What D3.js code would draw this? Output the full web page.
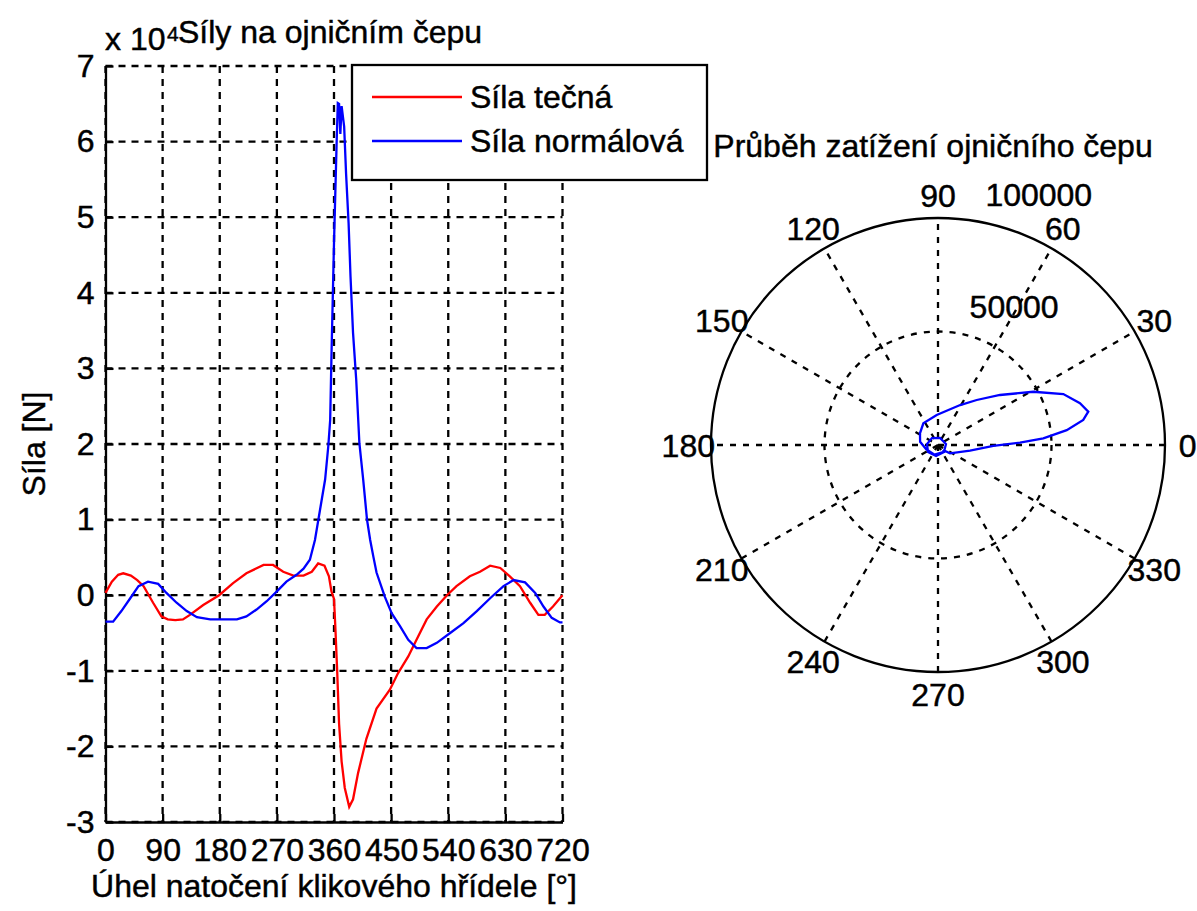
<!DOCTYPE html>
<html><head><meta charset="utf-8">
<script src="https://cdn.jsdelivr.net/npm/d3@7"></script>
<style>
body{margin:0;background:#fff}
text{font-family:"Liberation Sans",Arial,Helvetica,sans-serif;fill:#000;stroke:#000;stroke-width:0.45px}
</style>
</head><body><svg id="c" width="1197" height="911"></svg>
<script>
// ---------- data ----------
const tangAngle = [0,10,20,28,40,50,60,75,88,98,110,122,133,154,179,201,222,249,264,280,296,312,325,335,345,352,356,360,362,365,368,372,377,384,390,398,411,427,448,461,477,490,506,522,538,553,574,590,606,622,637,653,669,682,692,705,720];
const tangForce = [300,1800,2700,2900,2600,2000,1200,-1000,-2800,-3200,-3300,-3200,-2600,-1300,0,1600,2900,4000,4000,3100,2600,2600,3100,4200,3900,2500,500,-500,-4000,-10000,-17000,-22000,-25500,-28000,-27000,-23500,-19000,-15000,-12500,-10300,-8100,-5900,-3200,-1500,0,1200,2500,3100,3900,3600,2500,1200,-1000,-2600,-2600,-1500,0];
const normAngle = [0,12,25,39,52,67,83,96,112,128,144,165,207,222,238,254,270,285,301,312,322,330,338,346,351,354,356,360,364,366,368,370,372,376,379,383,386,390,395,400,406,412,417,422,427,440,451,464,477,490,506,522,543,564,585,606,627,643,661,677,690,703,716,720];
const normForce = [-3500,-3500,-2100,-400,1200,1800,1500,300,-1000,-2100,-2900,-3200,-3200,-2800,-1900,-800,500,1800,2700,3500,4700,7300,11300,15300,19700,23200,31600,46600,59400,65100,65000,61000,64700,62000,55800,49200,42200,34700,28500,20100,15300,10000,7300,5100,3000,-200,-2400,-4100,-5900,-7000,-7000,-6300,-5000,-3700,-2100,-400,1200,2000,1700,300,-1500,-3000,-3600,-3600];
const xTicks = [0,90,180,270,360,450,540,630,720];
const yTicks = [-3,-2,-1,0,1,2,3,4,5,6,7];
const legendLabels = ["Síla tečná","Síla normálová"];
const seriesColors = ["#ff0000","#0000ff"];

// polar load curve: angle [deg], magnitude [N]
const polarTheta  = [-45,311,260,215,175,131,74,7,311,250,200,170,147,124,92.5,61,49.3,38.9,29.2,22.1,16.4,12.5,9.8,6.6,3.6,1.6,-1,-10,-34.7,-45];
const polarRadius = [3120,4060,4930,5380,4860,4060,3200,3540,4000,4500,5500,8000,9470,11540,13220,20120,26150,35080,48100,59590,65190,67810,64940,57080,46480,36130,24370,14320,6430,3120];
const polarAngleLabels = [0,30,60,90,120,150,180,210,240,270,300,330];
const polarRTicks = [50000,100000];

// ---------- setup ----------
const svg = d3.select("#c");
const FS = 32;
const L = {left:105.5, right:562.5, top:66, bottom:822};
const x = d3.scaleLinear().domain([0,720]).range([L.left,L.right]);
const y = d3.scaleLinear().domain([-30000,70000]).range([L.bottom,L.top]);

const gL = svg.append("g");
// grid
const dash = "7,6";
gL.append("g").selectAll("line").data(xTicks).join("line")
  .attr("x1",d=>x(d)).attr("x2",d=>x(d)).attr("y1",L.top).attr("y2",L.bottom)
  .attr("stroke","#000").attr("stroke-width",2.3).attr("stroke-dasharray",dash);
gL.append("g").selectAll("line").data(yTicks).join("line")
  .attr("x1",L.left).attr("x2",L.right).attr("y1",d=>y(d*1e4)).attr("y2",d=>y(d*1e4))
  .attr("stroke","#000").attr("stroke-width",2.3).attr("stroke-dasharray",dash);

// axes
const ax = gL.append("g").attr("transform",`translate(0,${L.bottom})`)
  .call(d3.axisBottom(x).tickValues(xTicks).tickSizeInner(-8).tickSizeOuter(0).tickPadding(16));
const ay = gL.append("g").attr("transform",`translate(${L.left},0)`)
  .call(d3.axisLeft(y).tickValues(yTicks.map(t=>t*1e4)).tickFormat(d=>d3.format("d")(d/1e4)).tickSizeInner(-8).tickSizeOuter(0).tickPadding(11));
[ax,ay].forEach(a=>{
  a.selectAll("path.domain").attr("stroke","#000").attr("stroke-width",2.3);
  a.selectAll(".tick line").attr("stroke","#000").attr("stroke-width",2.3);
  a.selectAll("text").attr("font-size",FS).attr("font-family",'"Liberation Sans",Arial,sans-serif').attr("fill","#000");
});
ay.selectAll("text").text(d=>{const v=d/1e4; return v<0?"-"+Math.abs(v):String(v);});

// lines
const line = d3.line().x(d=>x(d[0])).y(d=>y(d[1]));
const tang = tangAngle.map((a,i)=>[a,tangForce[i]]);
const norm = normAngle.map((a,i)=>[a,normForce[i]]);
gL.append("path").datum(tang).attr("d",line).attr("fill","none").attr("stroke",seriesColors[0]).attr("stroke-width",2.3);
gL.append("path").datum(norm).attr("d",line).attr("fill","none").attr("stroke",seriesColors[1]).attr("stroke-width",2.3);

// labels
svg.append("text").attr("x",105).attr("y",50).attr("font-size",FS).text("x 10");
svg.append("text").attr("x",167).attr("y",41).attr("font-size",21).text("4");
svg.append("text").attr("x",178).attr("y",43).attr("font-size",FS).text("Síly na ojničním čepu");
svg.append("text").attr("x",(L.left+L.right)/2).attr("y",897).attr("text-anchor","middle").attr("font-size",FS).text("Úhel natočení klikového hřídele [°]");
svg.append("text").attr("transform",`translate(45,${(L.top+L.bottom)/2}) rotate(-90)`).attr("text-anchor","middle").attr("font-size",FS).text("Síla [N]");

// legend
const lg = svg.append("g");
lg.append("rect").attr("x",352).attr("y",65).attr("width",355).attr("height",115).attr("fill","#fff").attr("stroke","#000").attr("stroke-width",2.3);
legendLabels.forEach((t,i)=>{
  const yy = 97 + i*44;
  lg.append("line").attr("x1",372).attr("x2",462).attr("y1",yy).attr("y2",yy).attr("stroke",seriesColors[i]).attr("stroke-width",2.3);
  lg.append("text").attr("x",470).attr("y",yy+11).attr("font-size",FS).text(t);
});

// ---------- polar ----------
const cx = 938, cy = 445, R = 227;
const r = d3.scaleLinear().domain([0,100000]).range([0,R]);
const gP = svg.append("g").attr("transform",`translate(${cx},${cy})`);
const rad = a=>a*Math.PI/180;
// spokes
gP.append("g").selectAll("line").data([30,60,90,120,150,180]).join("line")
  .attr("x1",d=>-R*Math.cos(rad(d))).attr("y1",d=>R*Math.sin(rad(d)))
  .attr("x2",d=>R*Math.cos(rad(d))).attr("y2",d=>-R*Math.sin(rad(d)))
  .attr("stroke","#000").attr("stroke-width",2.3).attr("stroke-dasharray","6,7");
// circles
gP.append("circle").attr("r",r(polarRTicks[0])).attr("fill","none").attr("stroke","#000").attr("stroke-width",2.3).attr("stroke-dasharray","6,7");
gP.append("circle").attr("r",r(polarRTicks[1])).attr("fill","none").attr("stroke","#000").attr("stroke-width",2.3);
// angle labels
gP.append("g").selectAll("text").data(polarAngleLabels).join("text")
  .attr("x",d=>1.1*R*Math.cos(rad(d))).attr("y",d=>-1.1*R*Math.sin(rad(d)))
  .attr("text-anchor","middle").attr("dy","0.36em").attr("font-size",FS).text(d=>d);
// radial labels (MATLAB style, near 82 deg)
gP.append("g").selectAll("text").data(polarRTicks).join("text")
  .attr("x",d=>r(d+2500)*Math.cos(rad(82))+15).attr("y",d=>-r(d+2500)*Math.sin(rad(82))-9)
  .attr("font-size",FS).text(d=>d);
// curve
const pl = d3.line().x((d,i)=>r(polarRadius[i])*Math.cos(rad(polarTheta[i]))).y((d,i)=>-r(polarRadius[i])*Math.sin(rad(polarTheta[i])));
gP.append("path").datum(polarTheta).attr("d",pl).attr("fill","none").attr("stroke","#0000ff").attr("stroke-width",2.3);
svg.append("text").attr("x",933).attr("y",157).attr("text-anchor","middle").attr("font-size",FS).text("Průběh zatížení ojničního čepu");
</script></body></html>
